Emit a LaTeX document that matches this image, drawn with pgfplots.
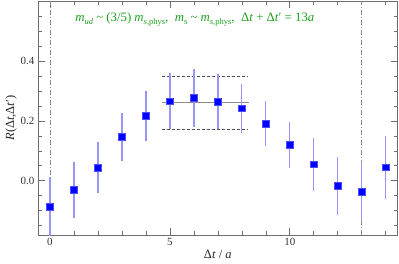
\documentclass[border=0pt]{standalone}
\usepackage{fontspec}
\setmainfont{Liberation Serif}
\usepackage{pgfplots}
\pgfplotsset{compat=1.18}
\definecolor{framegray}{RGB}{110,110,110}
\definecolor{ebar}{RGB}{150,150,250}
\definecolor{txtgreen}{RGB}{30,160,30}
\newcommand{\lsub}[1]{\raisebox{-0.5ex}{\fontsize{8.5}{9}\selectfont #1}}
\begin{document}
\begin{tikzpicture}
\begin{axis}[
  scale only axis,
  width=359.7pt, height=234pt,
  xmin=-0.5, xmax=14.5,
  ymin=-0.182, ymax=0.602,
  axis line style={framegray, line width=0.8pt},
  every tick/.style={framegray, line width=0.6pt},
  tick align=inside,
  xtick={0,5,10}, minor xtick={1,2,3,4,6,7,8,9,11,12,13,14},
  ytick={0,0.2,0.4}, minor ytick={-0.15,-0.1,-0.05,0.05,0.1,0.15,0.25,0.3,0.35,0.45,0.5,0.55},
  major tick length=7pt, minor tick length=4pt,
  yticklabel style={/pgf/number format/.cd, fixed, fixed zerofill, precision=1},
  /pgf/number format/assume math mode=true,
  ticklabel style={font=\fontsize{11}{13}\selectfont, color=black!80},
  xlabel={Δ\textit{t} / \textit{a}},
  ylabel={\textit{R}(Δ\textit{t},Δ\textit{t}′)},
  label style={font=\fontsize{12.5}{14}\selectfont, color=black!85},
  xlabel style={yshift=3pt},
  ylabel style={yshift=-3pt},
  clip=false,
]
\addplot[framegray!80, line width=0.8pt, dash pattern=on 5pt off 2pt on 1pt off 2pt] coordinates {(0,-0.182) (0,0.602)};
\addplot[framegray!80, line width=0.8pt, dash pattern=on 5pt off 2pt on 1pt off 2pt] coordinates {(13,-0.182) (13,0.602)};
\addplot[black!70, line width=0.6pt, dash pattern=on 3pt off 2pt] coordinates {(4.67,0.351) (8.25,0.351)};
\addplot[black!70, line width=0.6pt, dash pattern=on 3pt off 2pt] coordinates {(4.67,0.172) (8.25,0.172)};
\addplot[black!45, line width=1.6pt] coordinates {(4.67,0.262) (8.3,0.262)};
\addplot[only marks, mark=square*, mark size=3.4pt, mark options={fill=blue, draw=blue!70!white, line width=0.4pt},
  error bars/.cd, y dir=both, y explicit, error mark=none,
  error bar style={ebar, line width=1.3pt}]
  coordinates {
  (0,-0.087) +- (0,0.100)
  (1,-0.031) +- (0,0.094)
  (2,0.044) +- (0,0.085)
  (3,0.147) +- (0,0.081)
  (4,0.218) +- (0,0.084)
  (5,0.266) +- (0,0.094)
  (6,0.278) +- (0,0.097)
  (7,0.265) +- (0,0.092)
  (8,0.243) +- (0,0.082)
  (9,0.192) +- (0,0.075)
  (10,0.120) +- (0,0.078)
  (11,0.055) +- (0,0.088)
  (12,-0.017) +- (0,0.098)
  (13,-0.036) +- (0,0.098)
  (14,0.045) +- (0,0.105)
  };
\node[txtgreen, font=\fontsize{12.8}{14}\selectfont] at (axis cs:6.04,0.540)
  {\textit{m}\lsub{\textit{ud}} \textasciitilde{} (3/5) \textit{m}\lsub{\textit{s},phys}, \ \textit{m}\lsub{s} \textasciitilde{} \textit{m}\lsub{\textit{s},phys}, \ Δ\textit{t} + Δ\textit{t}′ = 13\textit{a}};
\end{axis}
\pgfresetboundingbox
\useasboundingbox ([shift={(-38pt,-28pt)}]current axis.south west) rectangle ([shift={(1.3pt,1pt)}]current axis.north east);
\end{tikzpicture}
\end{document}
